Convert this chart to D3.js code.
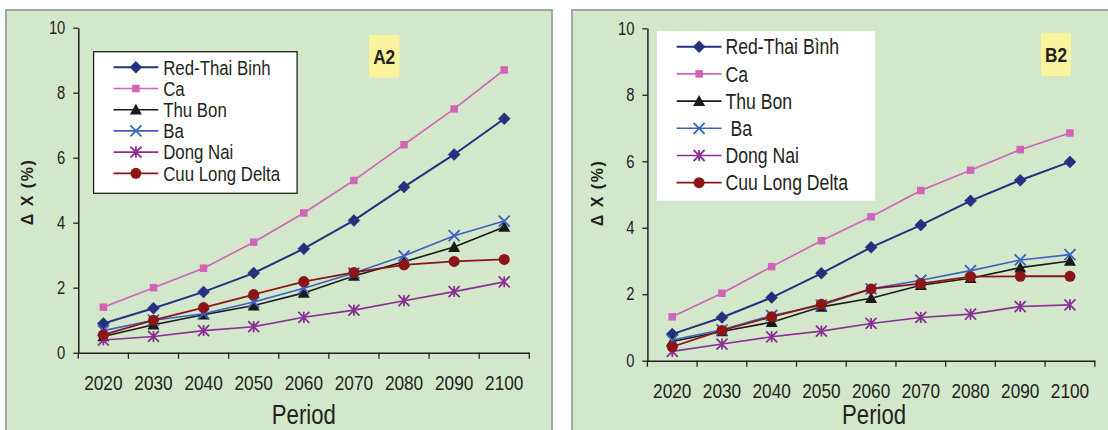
<!DOCTYPE html>
<html>
<head>
<meta charset="utf-8">
<script src="https://cdn.jsdelivr.net/npm/d3@7"></script>
<style>
  html, body { margin: 0; padding: 0; background: #ffffff; }
  svg { display: block; }
  text { font-family: "Liberation Sans", Arial, sans-serif; fill: #231f20; }
</style>
</head>
<body>
<svg id="chart" width="1108" height="430"></svg>
<script>
// Projection periods (x categories)
const periods = ["2020", "2030", "2040", "2050", "2060", "2070", "2080", "2090", "2100"];
const yTicks = [0, 2, 4, 6, 8, 10];

// Series names
const seriesNamesA = ["Red-Thai Binh", "Ca", "Thu Bon", "Ba", "Dong Nai", "Cuu Long Delta"];
const seriesNamesB = ["Red-Thai Bình", "Ca", "Thu Bon", " Ba", "Dong Nai", "Cuu Long Delta"];

// Scenario A2: ΔX (%)
const a2RedThaiBinh = [0.9, 1.37, 1.87, 2.45, 3.2, 4.07, 5.1, 6.1, 7.2];
const a2Ca          = [1.4, 2.0, 2.6, 3.4, 4.3, 5.3, 6.4, 7.5, 8.7];
const a2ThuBon      = [0.5, 0.86, 1.17, 1.45, 1.84, 2.36, 2.8, 3.25, 3.87];
const a2Ba          = [0.68, 1.0, 1.2, 1.56, 1.98, 2.45, 2.98, 3.6, 4.05];
const a2DongNai     = [0.39, 0.5, 0.68, 0.8, 1.09, 1.31, 1.6, 1.88, 2.18];
const a2CuuLong     = [0.55, 1.0, 1.39, 1.79, 2.19, 2.47, 2.7, 2.81, 2.87];

// Scenario B2: ΔX (%)
const b2RedThaiBinh = [0.8, 1.3, 1.9, 2.63, 3.41, 4.08, 4.81, 5.43, 5.98];
const b2Ca          = [1.32, 2.03, 2.83, 3.61, 4.33, 5.12, 5.73, 6.35, 6.85];
const b2ThuBon      = [0.58, 0.88, 1.16, 1.62, 1.88, 2.27, 2.48, 2.8, 3.0];
const b2Ba          = [0.62, 0.93, 1.36, 1.67, 2.16, 2.42, 2.71, 3.03, 3.19];
const b2DongNai     = [0.28, 0.5, 0.72, 0.89, 1.12, 1.3, 1.4, 1.63, 1.68];
const b2CuuLong     = [0.42, 0.91, 1.32, 1.7, 2.16, 2.32, 2.53, 2.54, 2.54];

// Visual style of each basin's line and marker
const styles = [
  { color: "#25307f", width: 2,   marker: "diamond",  size: 12 },
  { color: "#d064b8", width: 1.6, marker: "square",   size: 7.5 },
  { color: "#1a1a1a", width: 1.6, marker: "triangle", size: 12 },
  { color: "#3c62c0", width: 1.6, marker: "cross",    size: 11 },
  { color: "#8a2f93", width: 1.6, marker: "star",     size: 11 },
  { color: "#8c1518", width: 1.8, marker: "circle",   size: 11 }
];

const svg = d3.select("#chart");

// Squeeze text horizontally to get a condensed sans look
function condense(sel, factor) {
  sel.each(function () {
    const w = this.getComputedTextLength();
    if (w > 0) {
      d3.select(this).attr("textLength", w * factor).attr("lengthAdjust", "spacingAndGlyphs");
    }
  });
}

function drawMarker(g, type, x, y, size, color) {
  const h = size / 2;
  if (type === "diamond") {
    g.append("path").attr("d", `M${x},${y - h}L${x + h},${y}L${x},${y + h}L${x - h},${y}Z`)
      .attr("fill", color).attr("stroke", color).attr("stroke-width", 0.5);
  } else if (type === "square") {
    g.append("rect").attr("x", x - h).attr("y", y - h).attr("width", size).attr("height", size)
      .attr("fill", color);
  } else if (type === "triangle") {
    g.append("path").attr("d", `M${x},${y - h}L${x + h},${y + h * 0.8}L${x - h},${y + h * 0.8}Z`)
      .attr("fill", color);
  } else if (type === "cross") {
    g.append("path").attr("d", `M${x - h},${y - h}L${x + h},${y + h}M${x - h},${y + h}L${x + h},${y - h}`)
      .attr("stroke", color).attr("stroke-width", 1.8).attr("fill", "none");
  } else if (type === "star") {
    g.append("path").attr("d", `M${x - h},${y - h}L${x + h},${y + h}M${x - h},${y + h}L${x + h},${y - h}M${x},${y - h}L${x},${y + h}`)
      .attr("stroke", color).attr("stroke-width", 1.8).attr("fill", "none");
  } else if (type === "circle") {
    g.append("circle").attr("cx", x).attr("cy", y).attr("r", h).attr("fill", color);
  }
}

function drawPanel(p) {
  const g = svg.append("g");

  // panel background and frame
  g.append("rect").attr("x", p.frame[0]).attr("y", p.frame[1])
    .attr("width", p.frame[2]).attr("height", p.frame[3])
    .attr("fill", "#d3e7cb").attr("stroke", "#a3a7a3").attr("stroke-width", 2);

  const x = d3.scaleBand().domain(periods).range([p.x0, p.x1]).paddingInner(0).paddingOuter(0);
  const y = d3.scaleLinear().domain([0, 10]).range([p.y0, p.y1]);

  // y axis
  const yAxis = g.append("g").attr("transform", `translate(${p.x0},0)`)
    .call(d3.axisLeft(y).tickValues(yTicks).tickSize(5).tickSizeOuter(0).tickPadding(8));
  yAxis.attr("font-family", null).attr("font-size", null);
  yAxis.select(".domain").attr("stroke", "#231f20").attr("stroke-width", 1.5);
  yAxis.selectAll(".tick line").attr("stroke", "#231f20").attr("stroke-width", 1.3);
  yAxis.selectAll(".tick text").style("font-size", "18px").style("fill", "#231f20")
    .call(condense, 0.82);

  // x axis: labels centred in each period, ticks on the period boundaries
  const xAxis = g.append("g").attr("transform", `translate(0,${p.y0})`)
    .call(d3.axisBottom(x).tickSize(0).tickSizeOuter(0).tickPadding(p.xLabelPad));
  xAxis.attr("font-family", null).attr("font-size", null);
  xAxis.select(".domain").attr("stroke", "#231f20").attr("stroke-width", 1.5);
  xAxis.selectAll(".tick text").style("font-size", "21px").style("fill", "#231f20")
    .call(condense, 0.82);
  const edges = periods.map(d => x(d)).concat([x(periods[periods.length - 1]) + x.bandwidth()]);
  g.append("g").selectAll("line").data(edges).join("line")
    .attr("x1", d => d).attr("x2", d => d).attr("y1", p.y0).attr("y2", p.y0 + 6)
    .attr("stroke", "#231f20").attr("stroke-width", 1.3);

  // axis titles
  g.append("text").attr("x", (p.x0 + p.x1) / 2 + p.periodDx).attr("y", p.periodY)
    .attr("text-anchor", "middle").style("font-size", "27px").text("Period")
    .call(condense, 0.82);
  g.append("text").attr("transform", `translate(${p.yLabelX},${p.yLabelY}) rotate(-90)`)
    .attr("text-anchor", "middle").style("font-size", "16px").style("font-weight", "bold")
    .style("letter-spacing", "1.5px").style("white-space", "pre")
    .text("Δ X (%)");

  // series lines and markers
  const line = d3.line().x((d, i) => x(periods[i]) + x.bandwidth() / 2).y(d => y(d));
  p.series.forEach((vals, k) => {
    const s = styles[k];
    g.append("path").datum(vals).attr("d", line).attr("fill", "none")
      .attr("stroke", s.color).attr("stroke-width", s.width);
    const mg = g.append("g");
    vals.forEach((v, i) => drawMarker(mg, s.marker, x(periods[i]) + x.bandwidth() / 2, y(v), s.size, s.color));
  });

  // legend
  const L = p.legend;
  g.append("rect").attr("x", L.x).attr("y", L.y).attr("width", L.w).attr("height", L.h)
    .attr("fill", "#ffffff").attr("stroke", L.border ? "#231f20" : "none").attr("stroke-width", 1.3);
  p.names.forEach((name, k) => {
    const s = styles[k];
    const ry = L.row0 + k * L.step;
    g.append("line").attr("x1", L.lx0).attr("x2", L.lx1).attr("y1", ry).attr("y2", ry)
      .attr("stroke", s.color).attr("stroke-width", s.width);
    drawMarker(g, s.marker, (L.lx0 + L.lx1) / 2, ry, s.size, s.color);
    g.append("text").attr("x", L.tx).attr("y", ry).attr("dy", "0.36em")
      .style("font-size", L.font + "px").style("white-space", "pre").text(name)
      .call(condense, 0.82);
  });

  // scenario tag
  const T = p.tag;
  g.append("rect").attr("x", T.x).attr("y", T.y).attr("width", T.w).attr("height", T.h).attr("fill", "#f8f39c");
  g.append("text").attr("x", T.x + T.w / 2).attr("y", T.y + T.h / 2).attr("dy", "0.36em")
    .attr("text-anchor", "middle").style("font-size", "21px").style("font-weight", "bold").text(T.label)
    .call(condense, 0.82);
}

drawPanel({
  frame: [6, 10, 546, 440],
  x0: 78.3, x1: 529.3, y0: 352.7, y1: 27.7,
  xLabelPad: 22, periodY: 424, periodDx: 0,
  yLabelX: 33, yLabelY: 192,
  series: [a2RedThaiBinh, a2Ca, a2ThuBon, a2Ba, a2DongNai, a2CuuLong],
  names: seriesNamesA,
  legend: { x: 93.6, y: 51.7, w: 203.5, h: 141.6, border: true, row0: 67.3, step: 21.2,
            lx0: 113.5, lx1: 158.3, tx: 163.2, font: 20.5 },
  tag: { x: 369, y: 35, w: 30.3, h: 42.7, label: "A2" }
});

drawPanel({
  frame: [572, 10, 560, 440],
  x0: 647.4, x1: 1094.8, y0: 360.7, y1: 28.3,
  xLabelPad: 22, periodY: 424, periodDx: 3,
  yLabelX: 603, yLabelY: 193,
  series: [b2RedThaiBinh, b2Ca, b2ThuBon, b2Ba, b2DongNai, b2CuuLong],
  names: seriesNamesB,
  legend: { x: 657, y: 31, w: 218, h: 169.7, border: false, row0: 46.7, step: 27.2,
            lx0: 676.7, lx1: 721.5, tx: 725.5, font: 21.5 },
  tag: { x: 1041, y: 33, w: 30, h: 43, label: "B2" }
});
</script>
</body>
</html>
